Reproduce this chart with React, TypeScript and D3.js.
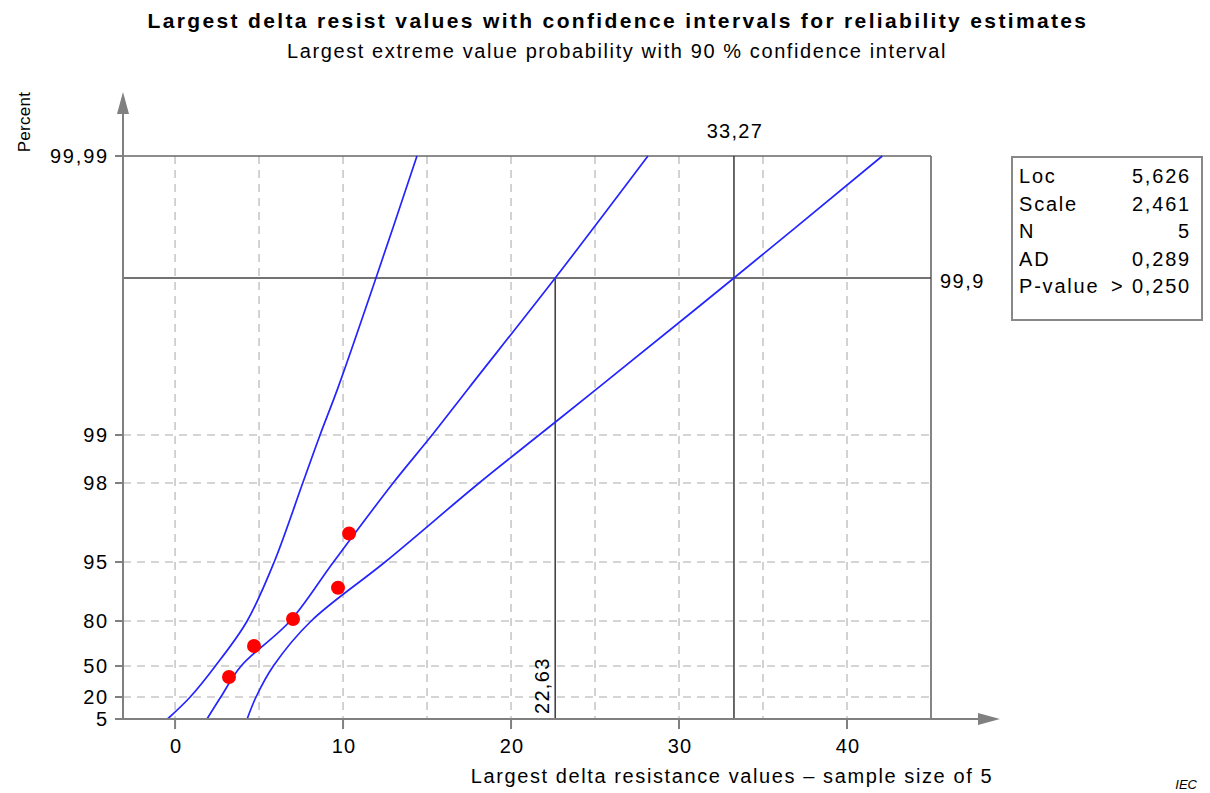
import React from "react";
import * as d3 from "d3";

// probability axis (percent) ticks
const percentTicks = [5, 20, 50, 80, 95, 98, 99, 99.9, 99.99];
const percentLabels = ["5", "20", "50", "80", "95", "98", "99", "", "99,99"];
const gridPercents = [20, 50, 80, 95, 98, 99];

// x axis ticks
const xTicks = [0, 10, 20, 30, 40];
const xGrid = [0, 5, 10, 15, 20, 25, 30, 35, 40];

// fitted line and 90 % confidence bounds, read at these percents
const curvePercents = [5, 20, 50, 80, 95, 98, 99, 99.5, 99.9, 99.99];
const ciLeftX = [-0.45, 0.9, 2.4, 4.29, 5.9, 7.6, 8.63, 9.7, 11.96, 14.4];
const fitX = [1.9, 2.72, 3.93, 6.85, 9.43, 12.98, 15.3, 17.5, 22.63, 28.15];
const ciRightX = [4.29, 4.82, 5.85, 8.1, 12.5, 18.1, 21.67, 25.2, 33.27, 42.1];

// sample points
const sampleX = [3.21, 4.7, 7.02, 9.7, 10.36];
const samplePct = [39.3, 65.8, 80.9, 90.7, 96.4];

// reference lines
const refPercent = 99.9;
const refFitX = 22.63;
const refUpperX = 33.27;

// stats box
const statLabels = ["Loc", "Scale", "N", "AD", "P-value"];
const statValues = ["5,626", "2,461", "5", "0,289", "> 0,250"];

const W = 1210;
const H = 793;
const left = 123;
const right = 931;
const top = 156;
const bottom = 719;
// pixel rows of the percent ticks (axis is not uniform in the original)
const tickRows = [719, 697, 666, 621, 562, 483, 435, 278, 156];

const font = "'Liberation Sans', Arial, sans-serif";
const gumbel = (p: number) => -Math.log(-Math.log(p / 100));

export default function App() {
  const x = d3.scaleLinear().domain([-3.1, 45]).range([left, right]);
  const y = d3
    .scaleLinear()
    .domain(percentTicks.map(gumbel))
    .range(tickRows);
  const yp = (p: number) => y(gumbel(p));

  const makeLine = (xs: number[]) =>
    d3
      .line<number>()
      .x((_, i) => x(xs[i]))
      .y(d => yp(d))
      .curve(d3.curveCatmullRom.alpha(0.5))(curvePercents) || "";

  const axisCol = "#808080";
  const gridCol = "#c8c8c8";
  const refCol = "#444";

  return (
    <svg
      width={W}
      height={H}
      style={{ position: "absolute", left: 0, top: 0, background: "#fff" }}
      fontFamily={font}
    >
      <text x={618} y={28} textAnchor="middle" fontSize={21} fontWeight="bold" letterSpacing={2.35}>
        Largest delta resist values with confidence intervals for reliability estimates
      </text>
      <text x={617} y={58} textAnchor="middle" fontSize={20} letterSpacing={1.6}>
        Largest extreme value probability with 90 % confidence interval
      </text>

      {/* grid */}
      {gridPercents.map(p => (
        <line key={"gy" + p} x1={left} x2={right} y1={yp(p)} y2={yp(p)}
          stroke={gridCol} strokeWidth={1.6} strokeDasharray="8,6" />
      ))}
      {xGrid.map(v => (
        <line key={"gx" + v} x1={x(v)} x2={x(v)} y1={top} y2={bottom}
          stroke={gridCol} strokeWidth={1.6} strokeDasharray="8,6" />
      ))}

      {/* frame */}
      <line x1={left} x2={right} y1={top} y2={top} stroke="#666" strokeWidth={1.6} />
      <line x1={right} x2={right} y1={top} y2={bottom} stroke="#666" strokeWidth={1.6} />

      {/* reference lines */}
      <line x1={left} x2={right} y1={yp(refPercent)} y2={yp(refPercent)} stroke={refCol} strokeWidth={1.6} />
      <line x1={x(refFitX)} x2={x(refFitX)} y1={yp(refPercent)} y2={bottom} stroke={refCol} strokeWidth={1.6} />
      <line x1={x(refUpperX)} x2={x(refUpperX)} y1={top} y2={bottom} stroke={refCol} strokeWidth={1.6} />
      <text x={right + 9} y={yp(refPercent) + 10} fontSize={20} letterSpacing={1.5}>99,9</text>
      <text x={x(refUpperX) + 1} y={top - 18} textAnchor="middle" fontSize={20} letterSpacing={1.3}>33,27</text>
      <text transform={`translate(${x(refFitX) - 6},${bottom - 5}) rotate(-90)`} fontSize={20} letterSpacing={1.3}>22,63</text>

      {/* curves */}
      {[ciLeftX, fitX, ciRightX].map((xs, i) => (
        <path key={"c" + i} d={makeLine(xs)} fill="none" stroke="#2424ff" strokeWidth={1.7} />
      ))}

      {/* samples */}
      {sampleX.map((v, i) => (
        <circle key={"s" + i} cx={x(v)} cy={yp(samplePct[i])} r={7} fill="#ff0000" />
      ))}

      {/* axes */}
      <line x1={left} x2={left} y1={bottom} y2={112} stroke={axisCol} strokeWidth={2} />
      <path d={`M${left - 6},114 L${left},92 L${left + 6},114 Z`} fill={axisCol} />
      <line x1={left} x2={980} y1={bottom} y2={bottom} stroke={axisCol} strokeWidth={2} />
      <path d={`M978,${bottom - 6} L1000,${bottom} L978,${bottom + 6} Z`} fill={axisCol} />

      {percentTicks.map((p, i) =>
        percentLabels[i] ? (
          <g key={"yt" + p}>
            <line x1={left - 8} x2={left} y1={yp(p)} y2={yp(p)} stroke={axisCol} strokeWidth={2} />
            <text x={109} y={yp(p) + 7} textAnchor="end" fontSize={20} letterSpacing={1.8}>
              {percentLabels[i]}
            </text>
          </g>
        ) : null
      )}
      {xTicks.map(v => (
        <g key={"xt" + v}>
          <line x1={x(v)} x2={x(v)} y1={bottom} y2={bottom + 10} stroke={axisCol} strokeWidth={2} />
          <text x={x(v) + 1} y={bottom + 34} textAnchor="middle" fontSize={20} letterSpacing={1.2}>
            {v}
          </text>
        </g>
      ))}

      <text x={732} y={783} textAnchor="middle" fontSize={20} letterSpacing={1.6}>
        Largest delta resistance values – sample size of 5
      </text>
      <text transform="translate(30,122) rotate(-90)" textAnchor="middle" fontSize={17} letterSpacing={0.3}>
        Percent
      </text>

      {/* stats box */}
      <rect x={1012} y={157} width={190} height={163} fill="#fff" stroke="#888" strokeWidth={2} />
      {statLabels.map((s, i) => (
        <g key={"st" + s}>
          <text x={1019} y={183 + i * 27.5} fontSize={20} letterSpacing={1.8}>{s}</text>
          <text x={1191} y={183 + i * 27.5} textAnchor="end" fontSize={20} letterSpacing={1.8}>{statValues[i]}</text>
        </g>
      ))}

      <text x={1197} y={789} textAnchor="end" fontSize={13} fontStyle="italic">IEC</text>
    </svg>
  );
}
